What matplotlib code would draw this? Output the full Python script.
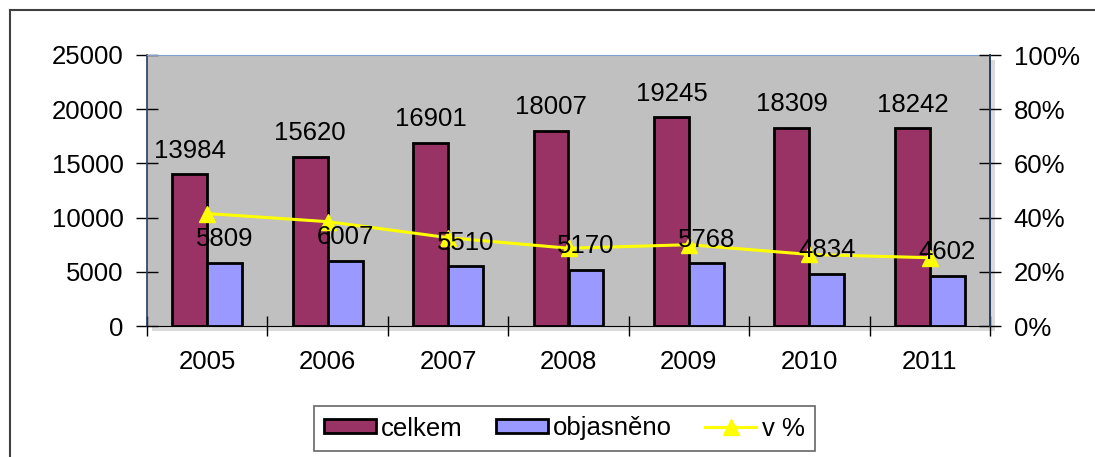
import matplotlib
matplotlib.use("Agg")
import matplotlib.pyplot as plt
import numpy as np
from matplotlib.lines import Line2D
from matplotlib.patches import Rectangle

plt.rcParams['font.family'] = ['Liberation Sans', 'DejaVu Sans']

years = ['2005', '2006', '2007', '2008', '2009', '2010', '2011']
celkem = [13984, 15620, 16901, 18007, 19245, 18309, 18242]
objasneno = [5809, 6007, 5510, 5170, 5768, 4834, 4602]
v_pct = [41.5, 38.5, 32.6, 28.7, 30.0, 26.4, 25.2]

FS = 18.5
fig = plt.figure(figsize=(10.95, 4.57), dpi=100)

# soft shadow behind plot area
fig.add_artist(Rectangle((152/1095, 1-331/457), (990-147)/1095, (326-55)/457,
                         transform=fig.transFigure, facecolor='#DADADA', edgecolor='none', zorder=0))

ax = fig.add_axes([147/1095, 1-326/457, (990-147)/1095, (326-55)/457])
ax.set_facecolor('#C0C0C0')

x = np.arange(len(years))
w = 0.29
b1 = ax.bar(x - w/2, celkem, w, color='#993366', edgecolor='black', linewidth=2, zorder=2, label='celkem')
b2 = ax.bar(x + w/2, objasneno, w, color='#9999FF', edgecolor='black', linewidth=2, zorder=2, label='objasněno')
ax.set_xlim(-0.5, len(years)-0.5)
ax.set_ylim(0, 25000)
ax.set_yticks(range(0, 25001, 5000))
ax.set_yticklabels([str(v) for v in range(0, 25001, 5000)], fontsize=FS)
ax.set_xticks(x)
ax.set_xticklabels(years, fontsize=FS)
ax.set_xticks(np.arange(-0.5, len(years), 1), minor=True)
ax.tick_params(axis='x', which='major', length=0, pad=17)
ax.tick_params(axis='x', which='minor', direction='inout', length=15, width=1)
ax.tick_params(axis='y', direction='inout', length=16, width=1, pad=9)

for s in ['left', 'right']:
    ax.spines[s].set_color('#243F60')
    ax.spines[s].set_linewidth(1.2)
ax.spines['top'].set_color('#7F9FCF')
ax.spines['bottom'].set_color('black')

ax2 = ax.twinx()
ax2.set_ylim(0, 100)
ax2.set_yticks(range(0, 101, 20))
ax2.set_yticklabels([f'{v}%' for v in range(0, 101, 20)], fontsize=FS)
ax2.tick_params(axis='y', direction='inout', length=16, width=1, pad=9)
ln, = ax2.plot(x, v_pct, color='#FFFF00', linewidth=2.2, marker='^', markersize=11,
               markeredgecolor='#FFFF00', zorder=3, label='v %')
for s in ax2.spines.values():
    s.set_visible(False)
ax2.spines['right'].set_visible(True)
ax2.spines['right'].set_color('#243F60')
ax2.spines['right'].set_linewidth(1.2)

# data labels drawn above the line (on ax2, positioned in ax data coords)
for bar, v in zip(b1, celkem):
    ax2.annotate(str(v), (bar.get_x()+bar.get_width()/2, v), xycoords=ax.transData, xytext=(0, 12),
                 textcoords='offset points', ha='center', va='baseline', fontsize=FS, zorder=5)
for bar, v in zip(b2, objasneno):
    ax2.annotate(str(v), (bar.get_x()+bar.get_width()/2, v), xycoords=ax.transData, xytext=(0, 12),
                 textcoords='offset points', ha='center', va='baseline', fontsize=FS, zorder=5)

leg = fig.legend(handles=[b1, b2, ln], labels=['celkem', 'objasněno', 'v %'],
                 loc='center', bbox_to_anchor=((308+821)/2/1095, 1-(406+451)/2/457),
                 ncol=3, fontsize=FS, frameon=True, fancybox=False, edgecolor='#404040',
                 handlelength=2.0, handleheight=0.45, handletextpad=0.2, columnspacing=1.3,
                 borderpad=0.4, borderaxespad=0)
leg.get_frame().set_linewidth(1.2)

# outer frame (left and top visible)
fig.add_artist(Line2D([10/1095, 10/1095], [0, 1-10/457], transform=fig.transFigure, color='#404040', lw=1.5))
fig.add_artist(Line2D([10/1095, 1], [1-10/457, 1-10/457], transform=fig.transFigure, color='#404040', lw=1.5))

fig.savefig('out.png', dpi=100)
